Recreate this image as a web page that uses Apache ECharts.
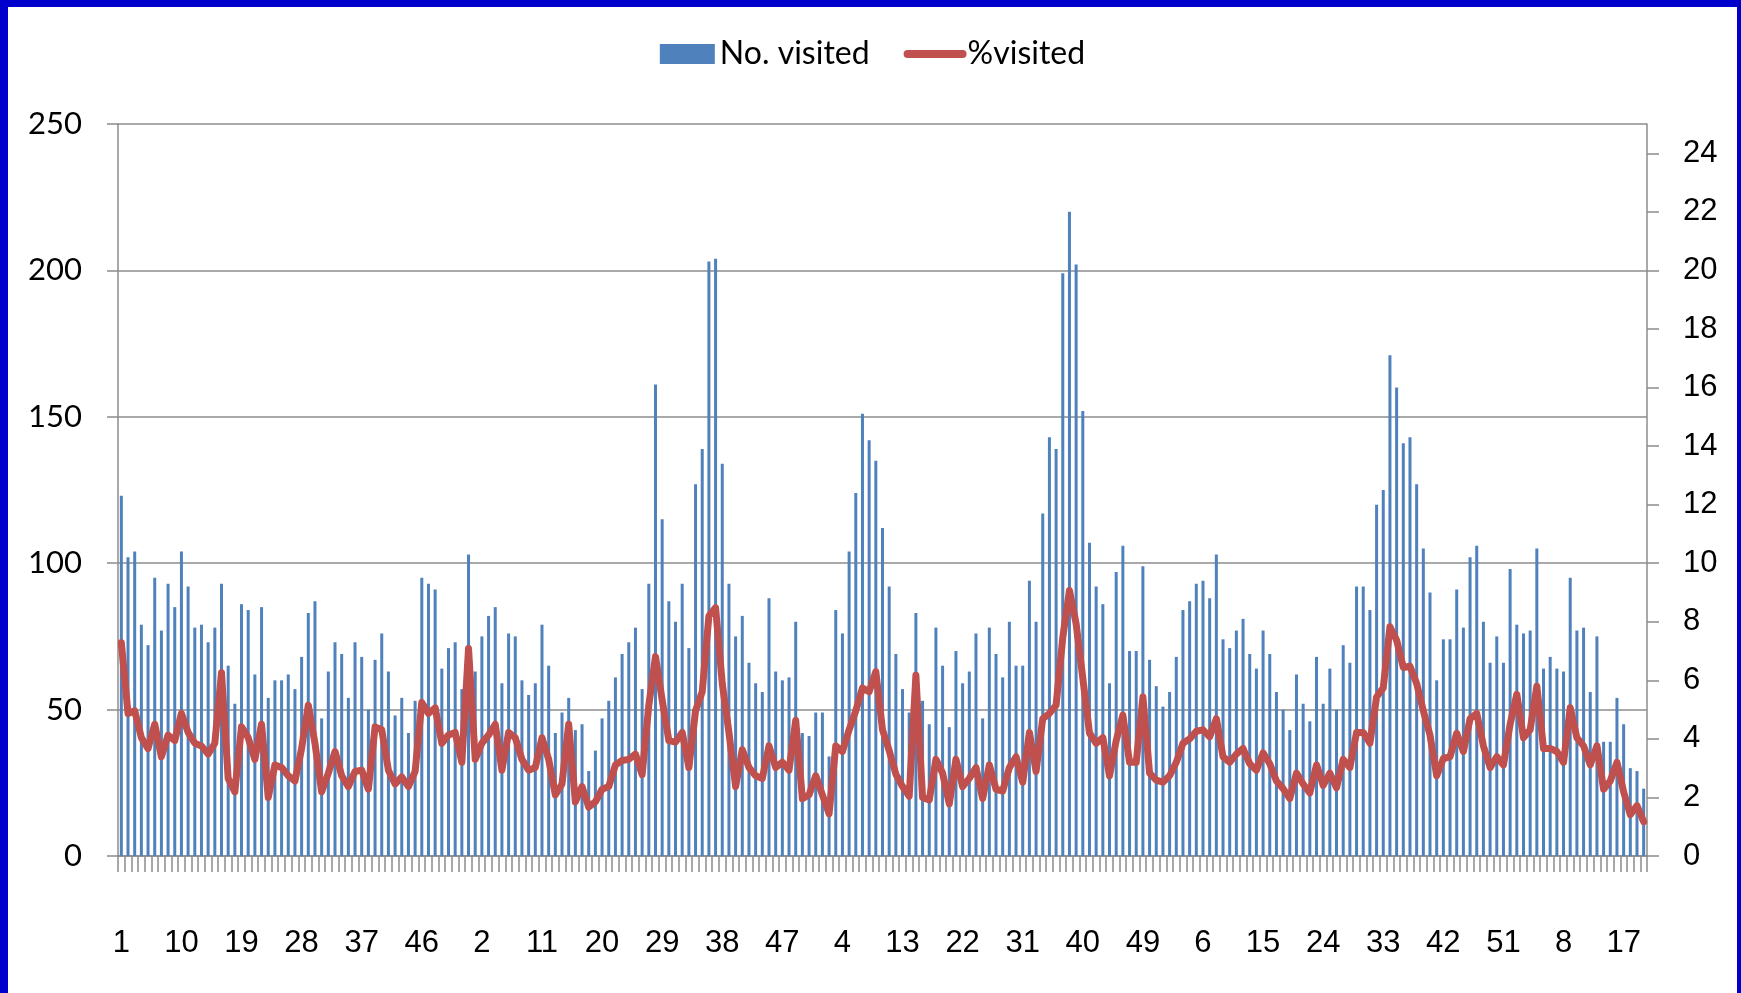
<!DOCTYPE html>
<html>
<head>
<meta charset="utf-8">
<script src="https://cdn.jsdelivr.net/npm/echarts@6/dist/echarts.min.js"></script>
<style>
    html, body { margin: 0; padding: 0; }
    body { width: 1741px; height: 993px; background: #0000cc; position: relative; overflow: hidden; }
    #chart { position: absolute; left: 8px; top: 7px; width: 1729px; height: 986px; background: #fff; }
</style>
</head>
<body>
<div id="chart"></div>
<script>
    // weeks per year shown on the x axis (first year has 53 weeks, last one is partial)
    var yearLengths = [53, 52, 52, 52, 20];

    var visitedNo = [
        123, 102, 104, 79, 72, 95, 77, 93, 85, 104, 92, 78, 79, 73, 78, 93, 65, 52, 86, 84, 62, 85, 54, 60, 60, 62, 57, 68, 83,
        87, 47, 63, 73, 69, 54, 73, 68, 50, 67, 76, 63, 48, 54, 42, 53, 95, 93, 91, 64, 71, 73, 57, 103, 63, 75, 82, 85, 59,
        76, 75, 60, 55, 59, 79, 65, 42, 49, 54, 43, 45, 29, 36, 47, 53, 61, 69, 73, 78, 57, 93, 161, 115, 87, 80, 93, 71, 127,
        139, 203, 204, 134, 93, 75, 82, 66, 59, 56, 88, 63, 60, 61, 80, 42, 41, 49, 49, 34, 84, 76, 104, 124, 151, 142, 135, 112, 92, 69,
        57, 49, 83, 53, 45, 78, 65, 44, 70, 59, 63, 76, 47, 78, 69, 61, 80, 65, 65, 94, 80, 117, 143, 139, 199, 220, 202, 152, 107,
        92, 86, 59, 97, 106, 70, 70, 99, 67, 58, 51, 56, 68, 84, 87, 93, 94, 88, 103, 74, 71, 77, 81, 69, 64, 77, 69, 56, 50,
        43, 62, 52, 46, 68, 52, 64, 50, 72, 66, 92, 92, 84, 120, 125, 171, 160, 141, 143, 127, 105, 90, 60, 74, 74, 91, 78, 102, 106,
        80, 66, 75, 66, 98, 79, 76, 77, 105, 64, 68, 64, 63, 95, 77, 78, 56, 75, 39, 39, 54, 45, 30, 29, 23
    ];

    var visitedPct = [
        7.28, 4.87, 4.96, 4.04, 3.67, 4.5, 3.39, 4.13, 3.94, 4.87, 4.22, 3.85, 3.76, 3.48, 3.85, 6.26, 2.65, 2.19, 4.41, 4.04, 3.3, 4.5, 2.0, 3.11, 3.02, 2.74, 2.56, 3.67, 5.15,
        3.85, 2.19, 2.83, 3.57, 2.74, 2.37, 2.89, 2.93, 2.28, 4.41, 4.31, 2.93, 2.46, 2.7, 2.37, 2.89, 5.24, 4.87, 5.06, 3.85, 4.13, 4.22, 3.2, 7.09, 3.3, 3.85, 4.13, 4.5, 2.93,
        4.22, 4.04, 3.3, 2.93, 3.02, 4.04, 3.3, 2.09, 2.46, 4.5, 1.85, 2.37, 1.67, 1.85, 2.28, 2.37, 3.11, 3.26, 3.3, 3.48, 2.78, 5.15, 6.81, 5.33, 3.94, 3.89, 4.22, 3.02, 4.96,
        5.61, 8.2, 8.48, 5.89, 4.22, 2.37, 3.63, 3.02, 2.74, 2.65, 3.76, 3.02, 3.2, 2.93, 4.63, 1.96, 2.09, 2.74, 2.09, 1.44, 3.76, 3.57, 4.31, 4.96, 5.74, 5.61, 6.3, 4.31, 3.6, 2.8,
        2.37, 2.04, 6.17, 2.0, 1.91, 3.3, 2.83, 1.78, 3.3, 2.37, 2.65, 3.02, 1.96, 3.11, 2.28, 2.22, 3.02, 3.39, 2.52, 4.22, 2.89, 4.69, 4.87, 5.15, 7.46, 9.07, 7.93, 6.07, 4.2,
        3.85, 4.04, 2.74, 3.94, 4.81, 3.2, 3.2, 5.43, 2.83, 2.59, 2.52, 2.74, 3.2, 3.85, 4.0, 4.26, 4.31, 4.07, 4.69, 3.39, 3.2, 3.48, 3.67, 3.15, 2.93, 3.52, 3.15, 2.56, 2.3,
        1.96, 2.83, 2.46, 2.15, 3.11, 2.41, 2.83, 2.33, 3.3, 3.02, 4.22, 4.22, 3.85, 5.43, 5.74, 7.83, 7.37, 6.44, 6.48, 5.89, 4.96, 4.13, 2.74, 3.33, 3.39, 4.19, 3.57, 4.69, 4.87,
        3.76, 3.02, 3.39, 3.11, 4.5, 5.52, 4.04, 4.31, 5.8, 3.67, 3.67, 3.57, 3.2, 5.06, 4.04, 3.76, 3.11, 3.76, 2.28, 2.56, 3.2, 2.19, 1.41, 1.72, 1.17
    ];

    var weeks = [];
    yearLengths.forEach(function (n) {
        for (var w = 1; w <= n; w++) weeks.push(String(w));
    });

    var axisGray = '#8c8c8c';
    var chart = echarts.init(document.getElementById('chart'));
    chart.setOption({
        animation: false,
        legend: {
            top: 26,
            left: 'center',
            itemGap: 34,
            itemWidth: 55,
            itemHeight: 20,
            textStyle: { fontFamily: 'Lato', fontSize: 32, color: '#000' },
            data: [
                { name: 'No. visited', icon: 'rect' },
                {
                    name: '%visited',
                    itemStyle: { opacity: 0 },
                    lineStyle: { width: 8, cap: 'round', color: '#c0504d' }
                }
            ]
        },
        grid: { left: 110, right: 90, top: 117, bottom: 137 },
        xAxis: {
            type: 'category',
            data: weeks,
            boundaryGap: true,
            axisLine: { lineStyle: { color: axisGray, width: 1.5 } },
            axisTick: { show: true, interval: 0, length: 16, lineStyle: { color: axisGray, width: 1.5 } },
            axisLabel: { interval: 8, margin: 72, fontFamily: 'Liberation Sans', fontSize: 31, color: '#000' }
        },
        yAxis: [
            {
                type: 'value',
                min: 0,
                max: 250,
                interval: 50,
                axisLine: { show: true, lineStyle: { color: axisGray, width: 1.5 } },
                axisTick: { show: true, length: 11, lineStyle: { color: axisGray, width: 1.5 } },
                axisLabel: { margin: 36, fontFamily: 'Lato', fontSize: 31, color: '#000' },
                splitLine: { lineStyle: { color: axisGray, width: 1.5 } }
            },
            {
                type: 'value',
                min: 0,
                max: 25,
                interval: 2,
                axisLine: { show: true, lineStyle: { color: axisGray, width: 1.5 } },
                axisTick: { show: true, length: 12, lineStyle: { color: axisGray, width: 1.5 } },
                axisLabel: { margin: 36, showMaxLabel: false, fontFamily: 'Liberation Sans', fontSize: 31, color: '#000' },
                splitLine: { show: false }
            }
        ],
        series: [
            {
                name: 'No. visited',
                type: 'bar',
                yAxisIndex: 0,
                barWidth: 3,
                itemStyle: { color: '#4f81bd' },
                data: visitedNo
            },
            {
                name: '%visited',
                type: 'line',
                yAxisIndex: 1,
                symbol: 'none',
                itemStyle: { color: '#c0504d' },
                lineStyle: { color: '#c0504d', width: 7, join: 'round', cap: 'round' },
                data: visitedPct
            }
        ]
    });
</script>
</body>
</html>
